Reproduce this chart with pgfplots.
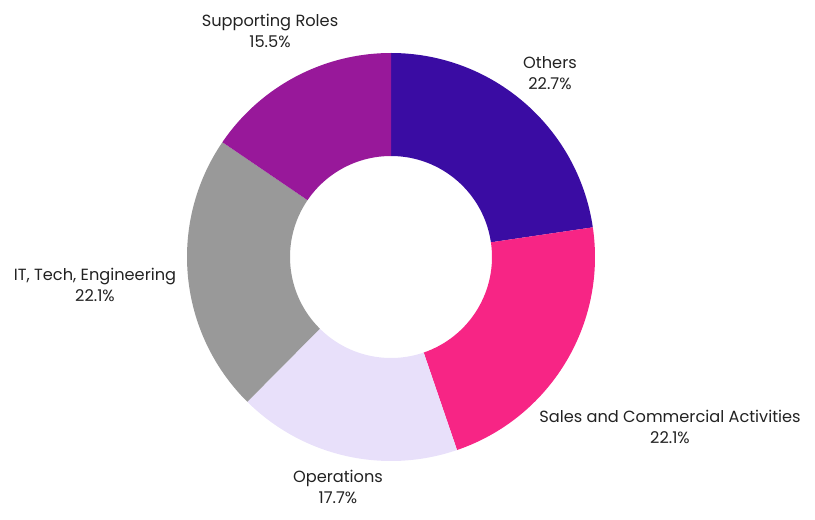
\documentclass[border=0pt]{standalone}
\usepackage{pgfplots}
\usepackage{pgfplotstable}
\pgfplotsset{compat=1.18}
\usepackage{fontspec}
\setmainfont{Poppins}

\definecolor{c0}{HTML}{3A0CA3}
\definecolor{c1}{HTML}{F72585}
\definecolor{c2}{HTML}{E8E0FA}
\definecolor{c3}{HTML}{999999}
\definecolor{c4}{HTML}{98189A}
\definecolor{labtxt}{HTML}{222222}

\pgfplotstableread[col sep=semicolon]{
name;value
Others;22.7
Sales and Commercial Activities;22.1
Operations;17.7
IT, Tech, Engineering;22.1
Supporting Roles;15.5
}\datatable

\def\total{0}
\foreach \i in {0,...,4}{%
  \pgfplotstablegetelem{\i}{value}\of\datatable
  \pgfmathparse{\total+\pgfplotsretval}\xdef\total{\pgfmathresult}%
}
\def\cum{0}
\foreach \i in {0,...,4}{%
  \pgfplotstablegetelem{\i}{value}\of\datatable
  \pgfmathsetmacro\s{90-3.6*(\cum/\total*100)}%
  \pgfmathparse{\cum+\pgfplotsretval}\xdef\cum{\pgfmathresult}%
  \pgfmathsetmacro\e{90-3.6*(\cum/\total*100)}%
  \expandafter\xdef\csname ws\i\endcsname{\s}%
  \expandafter\xdef\csname we\i\endcsname{\e}%
}

\begin{document}
\begin{tikzpicture}
\begin{axis}[
  hide axis, scale only axis, clip=false,
  x=1pt, y=1pt,
  xmin=0, xmax=815, ymin=0, ymax=520,
]
\path (axis cs:0,0) rectangle (axis cs:815,520);
\pgfplotsinvokeforeach{0,...,4}{%
  \fill[c#1] (axis cs:391,263) ++(\csname ws#1\endcsname:204pt)
    arc[start angle=\csname ws#1\endcsname, end angle=\csname we#1\endcsname, radius=204pt]
    -- ++(\csname we#1\endcsname+180:103pt)
    arc[start angle=\csname we#1\endcsname, end angle=\csname ws#1\endcsname, radius=101pt]
    -- cycle;
}
\tikzset{lab/.style={align=center, text=labtxt, font=\fontsize{16.2}{21.5}\selectfont, inner sep=0pt}}
\node[lab] at (axis cs:550,447) {Others\\22.7\%};
\node[lab] at (axis cs:670,93) {Sales and Commercial Activities\\22.1\%};
\node[lab] at (axis cs:338,33) {Operations\\17.7\%};
\node[lab] at (axis cs:95,235) {IT, Tech, Engineering\\22.1\%};
\node[lab] at (axis cs:270,489) {Supporting Roles\\15.5\%};
\end{axis}
\end{tikzpicture}
\end{document}
